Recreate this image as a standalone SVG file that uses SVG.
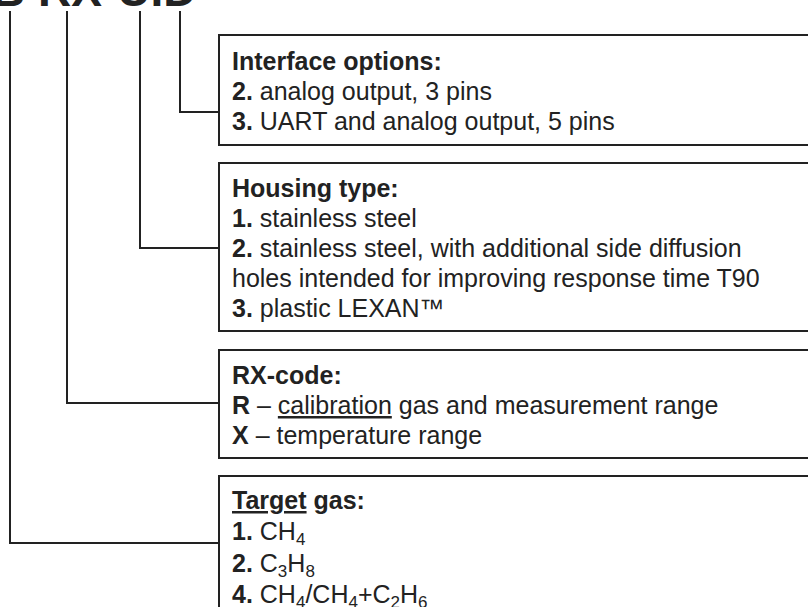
<svg xmlns="http://www.w3.org/2000/svg" width="808" height="607" viewBox="0 0 808 607">
<style>
.box{fill:#fff;stroke:#222;stroke-width:2}
.c{fill:none;stroke:#222;stroke-width:2}
text{font-family:"Liberation Sans",Arial,sans-serif;font-size:25px;fill:#222}
.b{font-weight:bold}
.sub{font-size:17px}
.code{font-size:46px;font-weight:bold}
</style>
<rect width="808" height="607" fill="#fff"/>
<text class="code" x="-8" y="6">B RX-UID</text>
<g id="connectors">
<polyline class="c" points="180,11 180,112 219,112"/>
<polyline class="c" points="140,11 140,248 219,248"/>
<polyline class="c" points="67,11 67,403 219,403"/>
<polyline class="c" points="10,11 10,543 219,543"/>
</g>
<g id="interface">
<rect class="box" x="219" y="35" width="600" height="110"/>
<text x="232" y="70" class="b">Interface options:</text>
<text x="232" y="100"><tspan class="b">2.</tspan> analog output, 3 pins</text>
<text x="232" y="130"><tspan class="b">3.</tspan> UART and analog output, 5 pins</text>
</g>
<g id="housing">
<rect class="box" x="219" y="163" width="600" height="168"/>
<text x="232" y="197" class="b">Housing type:</text>
<text x="232" y="227"><tspan class="b">1.</tspan> stainless steel</text>
<text x="232" y="257"><tspan class="b">2.</tspan> stainless steel, with additional side diffusion</text>
<text x="232" y="287">holes intended for improving response time T90</text>
<text x="232" y="317"><tspan class="b">3.</tspan> plastic LEXAN™</text>
</g>
<g id="rxcode">
<rect class="box" x="219" y="350" width="600" height="108"/>
<text x="232" y="384" class="b">RX-code:</text>
<text x="232" y="414"><tspan class="b">R</tspan> – <tspan text-decoration="underline">calibration</tspan> gas and measurement range</text>
<text x="232" y="444"><tspan class="b">X</tspan> – temperature range</text>
</g>
<g id="target">
<rect class="box" x="219" y="476" width="600" height="150"/>
<text x="232" y="509" class="b"><tspan text-decoration="underline">Target</tspan> gas:</text>
<text x="232" y="540"><tspan class="b">1.</tspan> CH<tspan class="sub" dy="5">4</tspan></text>
<text x="232" y="572"><tspan class="b">2.</tspan> C<tspan class="sub" dy="5">3</tspan><tspan dy="-5">H</tspan><tspan class="sub" dy="5">8</tspan></text>
<text x="232" y="603"><tspan class="b">4.</tspan> CH<tspan class="sub" dy="5">4</tspan><tspan dy="-5">/CH</tspan><tspan class="sub" dy="5">4</tspan><tspan dy="-5">+C</tspan><tspan class="sub" dy="5">2</tspan><tspan dy="-5">H</tspan><tspan class="sub" dy="5">6</tspan></text>
</g>
</svg>
